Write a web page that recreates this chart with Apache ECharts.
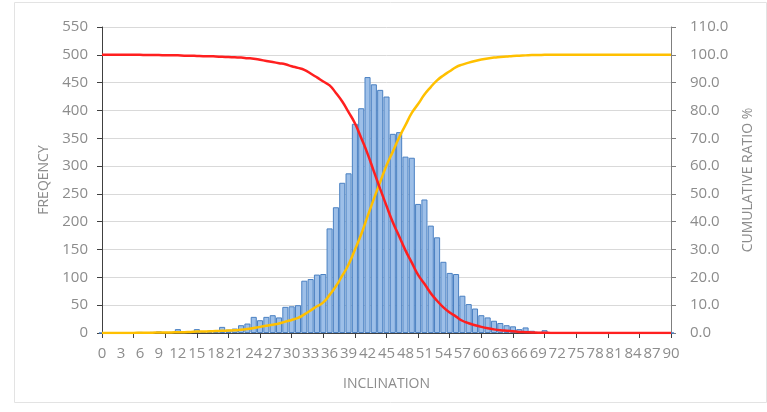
<!DOCTYPE html>
<html>
<head>
<meta charset="utf-8">
<script src="https://cdn.jsdelivr.net/npm/echarts@6/dist/echarts.min.js"></script>
<style>html,body{margin:0;padding:0;background:#fff;}#c{width:767px;height:412px;}</style>
</head>
<body>
<div id="c"></div>
<script>
// Inclination categories 0..90
const categories = [];
for (let i = 0; i <= 90; i++) categories.push(String(i));

const frequency = [
  0, 0, 0, 1, 1, 1, 2, 1, 2, 3,
  2, 2, 7, 3, 3, 7, 3, 4, 5, 11,
  6, 8, 14, 17, 29, 23, 29, 32, 28, 47,
  48, 50, 94, 97, 105, 106, 188, 226, 270, 287,
  376, 404, 460, 447, 437, 425, 358, 361, 317, 315,
  232, 240, 193, 172, 128, 108, 106, 67, 52, 44,
  32, 28, 22, 18, 14, 12, 7, 10, 4, 2,
  5, 1, 0, 0, 0, 0, 0, 0, 0, 0,
  0, 0, 0, 0, 0, 0, 0, 0, 0, 0,
  0
];

const cumulativeUp = [
  0.0, 0.0, 0.0, 0.0, 0.0, 0.0, 0.1, 0.1, 0.1, 0.2,
  0.2, 0.2, 0.3, 0.3, 0.4, 0.5, 0.5, 0.6, 0.7, 0.8,
  0.9, 1.0, 1.2, 1.4, 1.8, 2.2, 2.6, 3.0, 3.4, 4.1,
  4.7, 5.4, 6.7, 8.1, 9.6, 11.0, 13.7, 16.8, 20.6, 24.6,
  29.9, 35.5, 41.9, 48.2, 54.3, 60.2, 65.2, 70.3, 74.7, 79.1,
  82.3, 85.7, 88.4, 90.8, 92.6, 94.1, 95.6, 96.5, 97.2, 97.8,
  98.3, 98.7, 99.0, 99.2, 99.4, 99.6, 99.7, 99.8, 99.9, 99.9,
  100.0, 100.0, 100.0, 100.0, 100.0, 100.0, 100.0, 100.0, 100.0, 100.0,
  100.0, 100.0, 100.0, 100.0, 100.0, 100.0, 100.0, 100.0, 100.0, 100.0,
  100.0
];

const cumulativeDown = [
  100.0, 100.0, 100.0, 100.0, 100.0, 100.0, 100.0, 99.9, 99.9, 99.9,
  99.8, 99.8, 99.8, 99.7, 99.7, 99.6, 99.5, 99.5, 99.4, 99.3,
  99.2, 99.1, 99.0, 98.8, 98.6, 98.2, 97.8, 97.4, 97.0, 96.6,
  95.9, 95.3, 94.6, 93.3, 91.9, 90.4, 89.0, 86.3, 83.2, 79.4,
  75.4, 70.1, 64.5, 58.1, 51.8, 45.7, 39.8, 34.8, 29.7, 25.3,
  20.9, 17.7, 14.3, 11.6, 9.2, 7.4, 5.9, 4.4, 3.5, 2.8,
  2.2, 1.7, 1.3, 1.0, 0.8, 0.6, 0.4, 0.3, 0.2, 0.1,
  0.1, 0.0, 0.0, 0.0, 0.0, 0.0, 0.0, 0.0, 0.0, 0.0,
  0.0, 0.0, 0.0, 0.0, 0.0, 0.0, 0.0, 0.0, 0.0, 0.0,
  0.0
];

const FONT = 'Open Sans';
const LABEL_COLOR = '#8c8c8c';

const chart = echarts.init(document.getElementById('c'), null, {renderer: 'canvas'});
chart.setOption({
  animation: false,
  backgroundColor: '#ffffff',
  graphic: [{
    type: 'rect', left: 12, top: 0, silent: true, z: -10,
    shape: {width: 752, height: 400},
    style: {fill: 'none', stroke: '#e3e3e3', lineWidth: 1}
  }],
  grid: {left: 102, right: 96, top: 27, bottom: 79},
  xAxis: {
    type: 'category',
    data: categories,
    boundaryGap: false,
    name: 'INCLINATION',
    nameLocation: 'middle',
    nameGap: 44,
    nameTextStyle: {color: LABEL_COLOR, fontFamily: FONT, fontSize: 14},
    axisLine: {lineStyle: {color: '#404040', width: 1}},
    axisTick: {show: true, interval: 4, length: 5, inside: false, lineStyle: {color: '#404040'}},
    axisLabel: {interval: 2, color: LABEL_COLOR, fontFamily: FONT, fontSize: 15, margin: 13, hideOverlap: false},
    splitLine: {show: false}
  },
  yAxis: [{
    type: 'value',
    min: 0, max: 550, interval: 50,
    name: 'FREQENCY',
    nameLocation: 'middle',
    nameGap: 51,
    nameRotate: 90,
    nameTextStyle: {color: LABEL_COLOR, fontFamily: FONT, fontSize: 14},
    axisLine: {show: true, lineStyle: {color: '#404040', width: 1}},
    axisTick: {show: true, length: 5, lineStyle: {color: '#404040'}},
    axisLabel: {color: LABEL_COLOR, fontFamily: FONT, fontSize: 15, margin: 14},
    splitLine: {show: true, lineStyle: {color: '#d9d9d9', width: 1}}
  }, {
    type: 'value',
    min: 0, max: 110, interval: 10,
    position: 'right',
    name: 'CUMULATIVE RATIO %',
    nameLocation: 'middle',
    nameGap: 70,
    nameRotate: 90,
    nameTextStyle: {color: LABEL_COLOR, fontFamily: FONT, fontSize: 14},
    axisLine: {show: true, lineStyle: {color: '#7f7f7f', width: 1}},
    axisTick: {show: true, length: 5, lineStyle: {color: '#7f7f7f'}},
    axisLabel: {color: LABEL_COLOR, fontFamily: FONT, fontSize: 15, margin: 19,
      formatter: v => v.toFixed(1)},
    splitLine: {show: false}
  }],
  series: [{
    type: 'bar',
    name: 'Frequency',
    data: frequency,
    barCategoryGap: '4%',
    itemStyle: {color: '#9dbfe8', borderColor: '#4a80c2', borderWidth: 1},
    z: 2
  }, {
    type: 'line',
    name: 'Cumulative up',
    yAxisIndex: 1,
    data: cumulativeUp,
    showSymbol: false,
    smooth: 0.5,
    lineStyle: {color: '#ffc000', width: 2.5},
    itemStyle: {color: '#ffc000'},
    z: 3
  }, {
    type: 'line',
    name: 'Cumulative down',
    yAxisIndex: 1,
    data: cumulativeDown,
    showSymbol: false,
    smooth: 0.5,
    lineStyle: {color: '#ff1f1f', width: 2.5},
    itemStyle: {color: '#ff1f1f'},
    z: 4
  }]
});
</script>
</body>
</html>
